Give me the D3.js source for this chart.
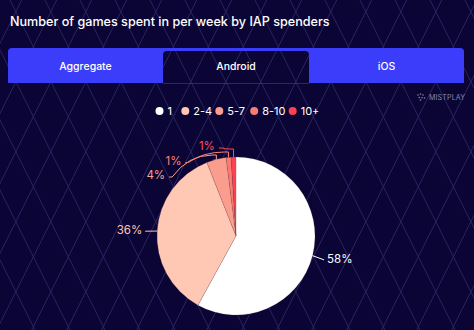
<!DOCTYPE html>
<html>
<head>
<meta charset="utf-8">
<script src="https://cdn.jsdelivr.net/npm/d3@7"></script>
<style>
  html, body { margin: 0; padding: 0; background: #0b0535; }
  svg { display: block; font-family: Inter, "Noto Sans", sans-serif; }
</style>
</head>
<body>
<svg id="chart" width="474" height="330"></svg>
<script>
// Weekly games played by in-app-purchase spenders (Android)
const chartTitle = "Number of games spent in per week by IAP spenders";
const tabs = ["Aggregate", "Android", "iOS"];
const activeTab = "Android";
const categories = ["1", "2-4", "5-7", "8-10", "10+"];
const shares = [58, 36, 4, 1, 1];
const sliceColors = ["#ffffff", "#ffc8b4", "#fb9d8d", "#f87c72", "#ff3f52"];
const labelColors = ["#ffffff", "#ffc3ad", "#f8a28f", "#f9826f", "#ff4a58"];

const W = 474, H = 330;
const svg = d3.select("#chart");
const bg = "#0b0535";

// background with diamond lattice
svg.append("rect").attr("width", W).attr("height", H).attr("fill", bg);
const lattice = svg.append("g").attr("stroke", "#2a2461").attr("stroke-width", 1).attr("fill", "none");
const step = 35;
for (let c = -400; c < 700; c += step) {
  // x + 0.5y = c0 + c  and  x - 0.5y = c1 + c
  const c0 = 141.7 % step + c, c1 = ((-45 % step) + step) % step + c;
  lattice.append("line").attr("x1", c0).attr("y1", 0).attr("x2", c0 - 0.5 * H).attr("y2", H);
  lattice.append("line").attr("x1", c1).attr("y1", 0).attr("x2", c1 + 0.5 * H).attr("y2", H);
}

// title
svg.append("text").attr("x", 10).attr("y", 26)
  .attr("fill", "#ffffff").attr("font-size", 12.6).attr("font-weight", 500)
  .text(chartTitle);

// tab bar: blue strip with the active tab cut out
const bar = { x0: 8, x1: 464, y0: 48, y1: 83 };
const tabX = d3.scaleBand().domain(tabs).range([bar.x0, bar.x1]).paddingInner(0);
// active tab is narrower than its neighbours
const tabW = [155, 146, 155];
const tabStarts = [bar.x0, bar.x0 + tabW[0], bar.x0 + tabW[0] + tabW[1]];
function roundTopRect(x0, y0, x1, y1, r) {
  return `M${x0},${y1} V${y0 + r} Q${x0},${y0} ${x0 + r},${y0} H${x1 - r} Q${x1},${y0} ${x1},${y0 + r} V${y1} Z`;
}
const ai = tabs.indexOf(activeTab);
const hole = roundTopRect(tabStarts[ai], bar.y0 + 3, tabStarts[ai] + tabW[ai], bar.y1 + 0.5, 4);
svg.append("path")
  .attr("d", roundTopRect(bar.x0, bar.y0, bar.x1, bar.y1, 4) + " " + hole)
  .attr("fill", "#3c3cfb").attr("fill-rule", "evenodd");
svg.append("g").selectAll("text").data(tabs).join("text")
  .attr("x", (d, i) => tabStarts[i] + tabW[i] / 2)
  .attr("y", 66).attr("dominant-baseline", "central").attr("text-anchor", "middle")
  .attr("fill", "#ffffff").attr("font-size", 10.5).attr("font-weight", 500)
  .text(d => d);

// brand mark
const brand = svg.append("g").attr("transform", "translate(418,97)");
[[0, -2], [2.5, -3], [5, -2], [1.2, 0.5], [4, 0.8], [2.5, 3], [6.5, 1]].forEach(p => {
  brand.append("circle").attr("cx", p[0]).attr("cy", p[1]).attr("r", 0.8).attr("fill", "#8c8aa6");
});
brand.append("text").attr("x", 11).attr("y", 0).attr("dominant-baseline", "central")
  .attr("fill", "#8c8aa6").attr("font-size", 7).attr("letter-spacing", 0.2).text("MISTPLAY");

// legend
const legendX = [159.5, 185.3, 219.3, 254.2, 292.7];
const legend = svg.append("g").selectAll("g").data(categories).join("g")
  .attr("transform", (d, i) => `translate(${legendX[i]},111)`);
legend.append("circle").attr("r", 4).attr("fill", (d, i) => sliceColors[i]);
legend.append("text").attr("x", 8).attr("dominant-baseline", "central")
  .attr("fill", "#ffffff").attr("font-size", 11).text(d => d);

// pie
const cx = 236, cy = 236, r = 79;
const pie = d3.pie().sort(null).value(d => d.v);
const arcs = pie(categories.map((c, i) => ({ c, v: shares[i], i })));
const arcGen = d3.arc().innerRadius(0).outerRadius(r);
const g = svg.append("g").attr("transform", `translate(${cx},${cy})`);
g.selectAll("path").data(arcs).join("path")
  .attr("d", arcGen)
  .attr("fill", d => sliceColors[d.data.i])
  .attr("stroke", "rgba(120,60,60,0.25)").attr("stroke-width", 0.6);

// label layout: labels sit on a ring, pushed downward when they collide at the top
const R = 92, gapY = 14.5;
const labels = arcs.map(d => {
  const mid = (d.startAngle + d.endAngle) / 2;
  return {
    d, mid,
    left: Math.sin(mid) < 0,
    ax: r * Math.sin(mid), ay: -r * Math.cos(mid),
    ny: -R * Math.cos(mid)
  };
});
const leftSide = labels.filter(l => l.left).sort((a, b) => b.mid - a.mid);
let prev = -Infinity, k = 0;
leftSide.forEach(l => {
  l.y = Math.max(l.ny, -R + 2, prev + gapY);
  l.moved = l.y - l.ny > 1;
  if (l.moved) l.rank = k++;
  prev = l.y;
  l.x = -Math.sqrt(Math.max(R * R - l.y * l.y, 0));
});
labels.filter(l => !l.left).forEach(l => {
  l.y = l.ny; l.moved = false;
  l.x = Math.sqrt(Math.max(R * R - l.y * l.y, 0));
});

const lab = g.append("g");
labels.forEach(l => {
  const col = labelColors[l.d.data.i];
  const dir = l.left ? -1 : 1;
  let path;
  if (l.moved || (l.left && l.mid > 5.5)) {
    const sx = l.x + 2, sy = l.y + 2;
    const ey = -r - 8 + 3 * (l.rank || 0);
    const ex = l.ax;
    const p = d3.path();
    p.moveTo(sx, sy);
    p.lineTo(sx + 3, sy);
    const dx = ex - 4 - (sx + 3);
    p.quadraticCurveTo(sx + 3 + dx * 0.4, ey, ex - 4, ey);
    p.lineTo(ex, ey);
    p.lineTo(ex, l.ay);
    path = p.toString();
  } else {
    path = `M${l.ax},${l.ay} L${l.x - dir * 1},${l.y + 1}`;
  }
  lab.append("path").attr("d", path).attr("fill", "none")
    .attr("stroke", col).attr("stroke-width", 1);
  lab.append("text")
    .attr("x", l.x + dir * 2).attr("y", l.y)
    .attr("text-anchor", l.left ? "end" : "start")
    .attr("dominant-baseline", "central")
    .attr("fill", col).attr("font-size", 11.5)
    .text(l.d.data.v + "%");
});
</script>
</body>
</html>
